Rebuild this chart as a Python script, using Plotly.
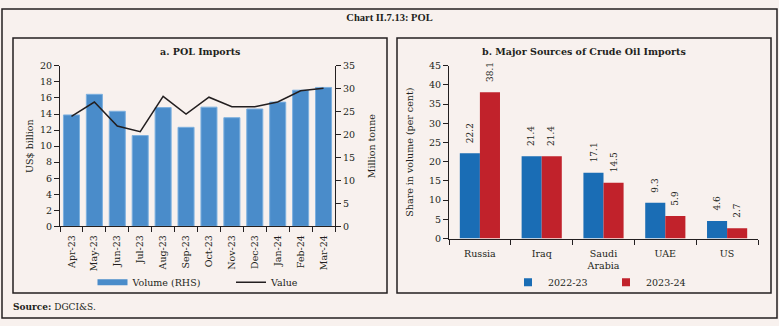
import plotly.graph_objects as go

# Canvas size in pixels and helpers to turn pixel positions into paper fractions
W, H = 779, 326


def px(x):
    return x / W


def py(y):
    return 1 - y / H


# ---- Panel a: POL imports ----
months = ["Apr-23", "May-23", "Jun-23", "Jul-23", "Aug-23", "Sep-23",
          "Oct-23", "Nov-23", "Dec-23", "Jan-24", "Feb-24", "Mar-24"]
volume_mt = [24.3, 28.8, 25.1, 19.8, 25.9, 21.6, 26.0, 23.7, 25.6, 27.1, 29.7, 30.3]
value_usd_bn = [13.7, 15.5, 12.5, 11.8, 16.2, 14.0, 16.1, 14.9, 14.9, 15.5, 16.9, 17.2]

# ---- Panel b: major sources of crude oil imports ----
sources = ["Russia", "Iraq", "Saudi<br>Arabia", "UAE", "US"]
share_2022_23 = [22.2, 21.4, 17.1, 9.3, 4.6]
share_2023_24 = [38.1, 21.4, 14.5, 5.9, 2.7]

BG = "#f8f1ee"
INK = "#231f20"
VOL_BLUE = "#4a8cca"
VOL_EDGE = "#7db0df"
BLUE = "#1a6db5"
RED = "#c1222b"
FONT = "DejaVu Serif"

fig = go.Figure()

# Volume bars (right-hand axis) drawn on the base subplot so the line sits on top
fig.add_trace(go.Bar(
    x=months, y=volume_mt, xaxis="x", yaxis="y",
    marker=dict(color=VOL_BLUE, line=dict(color=VOL_EDGE, width=1)),
    width=0.7, name="Volume (RHS)", showlegend=False,
))
# Legend swatch for the volume bars: a wide, flat bar-coloured strip
fig.add_trace(go.Scatter(
    x=[None], y=[None], xaxis="x", yaxis="y", mode="lines",
    line=dict(color=VOL_BLUE, width=6), name="Volume (RHS)", legend="legend",
))
fig.add_trace(go.Scatter(
    x=months, y=value_usd_bn, xaxis="x", yaxis="y2", mode="lines",
    line=dict(color=INK, width=1.5), name="Value", legend="legend",
))

# Grouped bars of import shares by source, each with a rotated value label
series_b = (("2022-23", share_2022_23, BLUE, -10), ("2023-24", share_2023_24, RED, 10))
for yrs, vals, col, shift in series_b:
    fig.add_trace(go.Bar(
        x=sources, y=vals, xaxis="x2", yaxis="y3", name=yrs,
        marker=dict(color=col, line=dict(width=0)),
        showlegend=False,
    ))
    fig.add_trace(go.Scatter(
        x=[None], y=[None], xaxis="x2", yaxis="y3", mode="markers",
        marker=dict(color=col, symbol="square", size=8), name=yrs, legend="legend2",
    ))
    for src, v in zip(sources, vals):
        fig.add_annotation(
            x=src, y=v, xref="x2", yref="y3", text=f"{v:.1f}", textangle=-90,
            xanchor="center", yanchor="bottom", xshift=shift, yshift=8,
            showarrow=False, font=dict(family=FONT, size=9, color=INK),
        )

axis_common = dict(
    showline=True, linecolor=INK, linewidth=1, ticks="outside", ticklen=5,
    tickcolor=INK, tickwidth=1, showgrid=False, zeroline=False,
    tickfont=dict(family=FONT, size=9.5, color=INK),
)

fig.update_layout(
    width=W, height=H,
    margin=dict(l=0, r=0, t=0, b=0),
    paper_bgcolor=BG, plot_bgcolor="rgba(0,0,0,0)",
    font=dict(family=FONT, size=9.5, color=INK),
    barmode="group", bargap=0.35, bargroupgap=0,
    title=dict(text="Chart II.7.13: POL", x=0.5, xanchor="center",
               y=py(17), yanchor="middle", yref="container",
               font=dict(family="Liberation Serif", size=10.5, weight="bold", color=INK)),
    xaxis=dict(domain=[px(60), px(335)], anchor="y", type="category",
               tickson="boundaries", tickangle=-90, range=[-0.5, 11.5],
               ticklabelstandoff=4, **axis_common),
    yaxis=dict(domain=[py(228), py(62)], anchor="x", side="right", range=[0, 35], dtick=5,
               title=dict(text="Million tonne", standoff=14,
                          font=dict(family=FONT, size=9.5, color=INK)),
               **axis_common),
    yaxis2=dict(overlaying="y", anchor="x", side="left", range=[0, 20], dtick=2,
                title=dict(text="US$ billion", standoff=4,
                           font=dict(family=FONT, size=9.5, color=INK)),
                **axis_common),
    xaxis2=dict(domain=[px(449), px(758)], anchor="y3", type="category",
                tickson="boundaries", range=[-0.5, 4.5], ticklabelstandoff=6,
                **axis_common),
    yaxis3=dict(domain=[py(240.7), py(61.7)], anchor="x2", range=[0, 45], dtick=5,
                title=dict(text="Share in volume (per cent)", standoff=13,
                           font=dict(family=FONT, size=9.5, color=INK)),
                **axis_common),
    legend=dict(orientation="h", x=px(92.5), xanchor="left", y=py(271), yanchor="top",
                entrywidth=93.5, entrywidthmode="pixels", bgcolor="rgba(0,0,0,0)",
                font=dict(family=FONT, size=9.5, color=INK), borderwidth=0),
    legend2=dict(orientation="h", x=px(508), xanchor="left", y=py(271), yanchor="top",
                 entrywidth=53, entrywidthmode="pixels", bgcolor="rgba(0,0,0,0)",
                 font=dict(family=FONT, size=9.5, color=INK), borderwidth=0),
)

# Outer frame and the two panel frames
frames = [(2, 3, 777, 323), (13, 33, 387, 297), (397, 33, 771, 297)]
for x0, y0, x1, y1 in frames:
    fig.add_shape(type="rect", xref="paper", yref="paper",
                  x0=px(x0), x1=px(x1), y0=py(y1), y1=py(y0),
                  line=dict(color=INK, width=1.5), fillcolor="rgba(0,0,0,0)", layer="below")

# Panel headings and source note
fig.add_annotation(text="a. POL Imports", xref="paper", yref="paper",
                   x=px(200), y=py(46.7), xanchor="center", yanchor="middle", showarrow=False,
                   font=dict(family=FONT, size=9.5, weight="bold", color=INK))
fig.add_annotation(text="b. Major Sources of Crude Oil Imports", xref="paper", yref="paper",
                   x=px(584), y=py(46.7), xanchor="center", yanchor="middle", showarrow=False,
                   font=dict(family=FONT, size=9.5, weight="bold", color=INK))
fig.add_annotation(text="<b>Source:</b> DGCI&amp;S.", xref="paper", yref="paper",
                   x=px(11), y=py(312), xanchor="left", yanchor="middle", showarrow=False,
                   font=dict(family=FONT, size=9, color=INK))

fig.write_html("out.html")
